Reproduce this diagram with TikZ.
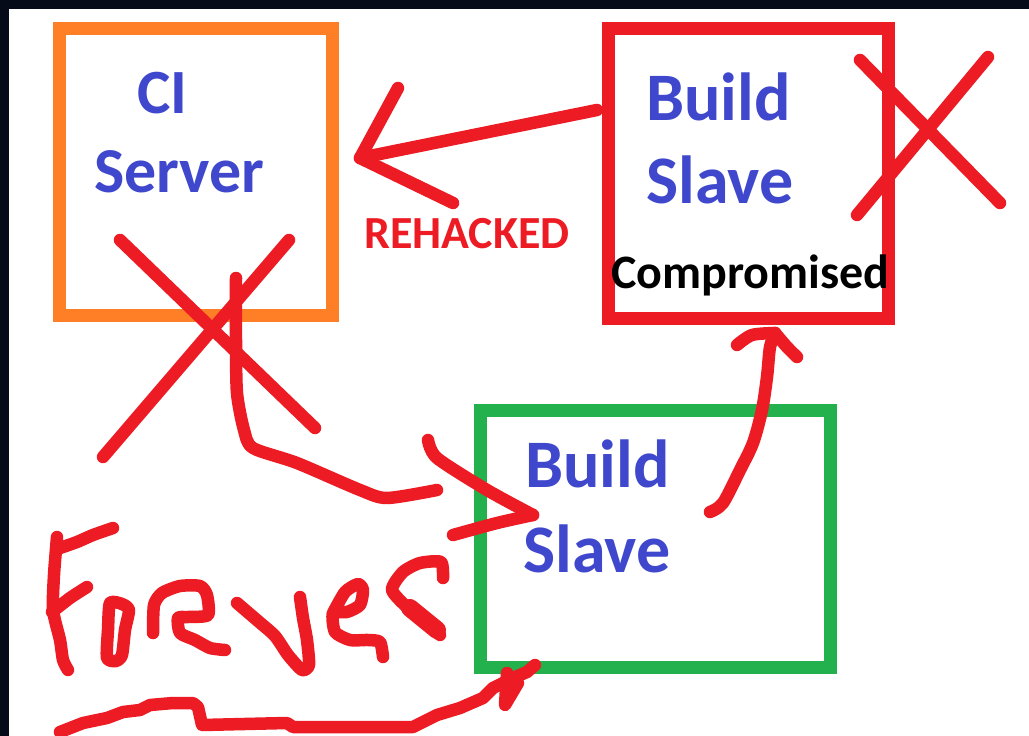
\documentclass[tikz,border=0pt]{standalone}
\usepackage{fontspec}
\setmainfont{Carlito}
\definecolor{frame}{HTML}{060B1A}
\definecolor{pOrange}{HTML}{FF7F27}
\definecolor{pRed}{HTML}{ED1C24}
\definecolor{pGreen}{HTML}{22B14C}
\definecolor{pBlue}{HTML}{3F48CC}
\tikzset{
  box/.style={draw=#1, line width=13pt, inner sep=0pt, line join=miter},
  label/.style={anchor=base west, inner sep=0pt, font=\bfseries\fontsize{#1}{#1}\selectfont},
  pen/.style={draw=pRed, line width=12.5pt, line cap=round, line join=round},
  penthick/.style={draw=pRed, line width=18pt, line cap=round, line join=round},
}
\begin{document}
\begin{tikzpicture}[x=1pt, y=-1pt]
\useasboundingbox (0,0) rectangle (1029,736);
\fill[frame] (0,0) rectangle (1029,736);
\fill[white] (9,9) rectangle (1029,736);

% boxes
\node[box=pOrange, minimum width=273pt, minimum height=287pt] (ci) at (196,172) {};
\node[box=pRed, minimum width=280pt, minimum height=290pt] (slaveA) at (748.5,173.5) {};
\node[box=pGreen, minimum width=350pt, minimum height=257pt] (slaveB) at (655,538.5) {};

% box labels
\node[label=63, text=pBlue] (ciA) at (137,113) {CI};
\node[label=64, text=pBlue] (ciB) at (94,192) {Server};
\node[label=68, text=pBlue] (saA) at (646,120) {Build};
\node[label=68, text=pBlue] (saB) at (646,203) {Slave};
\node[label=48, text=black] (comp) at (611,288) {Compromised};
\node[label=68, text=pBlue] (sbA) at (525,487) {Build};
\node[label=68, text=pBlue] (sbB) at (523,572) {Slave};
\node[label=46, text=pRed] (rehack) at (364,248) {REHACKED};

% arrow slave (compromised) -> CI server
\coordinate (t1) at (360,158);
\draw[pen] (597,110) -- (t1);
\draw[pen] (398,88) -- (t1) -- (453,203);

% crosses
\draw[pen] (120,240) -- (315,428);
\draw[pen] (289,240) -- (103,457);
\draw[pen] (860,60) -- (1000,203);
\draw[pen] (988,57) -- (857,215);

% CI server -> green build slave
\coordinate (t2) at (533,515);
\draw[pen] plot[smooth, tension=0.45] coordinates {(236,278) (236,340) (237,393) (244,430) (253,448) (297,463) (360,490) (387,498) (437,490)};
\draw[pen] plot[smooth, tension=0.45] coordinates {(428,440) (437,458) (487,490) (533,515)};
\draw[pen] plot[smooth, tension=0.45] coordinates {(533,515) (497,523) (453,535)};

% green build slave -> compromised slave
\coordinate (t3) at (775,333);
\draw[pen] plot[smooth, tension=0.5] coordinates {(710,512) (723,503) (740,470) (753,443) (762,410) (767,377) (770,347) (775,333)};
\draw[pen] plot[smooth, tension=0.5] coordinates {(737,345) (752,335) (775,333)};
\draw[pen] plot[smooth, tension=0.5] coordinates {(775,333) (787,347) (797,357)};

% hand-written "Forever"
\draw[pen] plot[smooth, tension=0.4] coordinates {(57,537) (54,575) (53,610) (60,640) (63,660) (68,670)};
\draw[pen] plot[smooth, tension=0.4] coordinates {(60,548) (77,542) (93,535) (113,528)};
\draw[pen] plot[smooth, tension=0.4] coordinates {(52,612) (70,598) (87,587)};
\draw[pen] plot[smooth cycle, tension=0.4] coordinates {(110,603) (108,630) (107,658) (116,661) (122,655) (125,630) (129,610) (122,604)};
\draw[pen] plot[smooth, tension=0.4] coordinates {(153,633) (154,605) (162,593) (180,586) (200,586) (207,595) (208,615) (188,617) (178,618) (180,633) (195,640) (210,648) (225,650)};
\draw[pen] plot[smooth, tension=0.4] coordinates {(237,603) (258,621) (275,636) (288,655) (302,670) (309,665) (307,640) (303,618) (300,597)};
\draw[pen] plot[smooth, tension=0.4] coordinates {(333,613) (345,592) (358,584) (363,590) (360,605) (347,612) (333,613) (335,632) (350,640) (368,640) (380,642) (383,657)};
\draw[pen] plot[smooth, tension=0.4] coordinates {(443,578) (441,562) (420,563) (403,572) (392,590) (410,610) (440,635)};
\draw[penthick] (410,608) -- (437,630);

% bottom arrow into the green build slave
\coordinate (t4) at (535,665);
\draw[pen] (60,732) -- (83,723) -- (107,718) -- (123,712) -- (140,710) -- (150,705) -- (173,703) -- (193,703) -- (198,707) -- (202,725) -- (287,723) -- (293,727) -- (413,727) -- (437,715) -- (460,708) -- (483,698) -- (493,688) -- (513,678) -- (527,672) -- (t4);
\draw[pen] (507,673) -- (505,705) -- (518,683);
\end{tikzpicture}
\end{document}
